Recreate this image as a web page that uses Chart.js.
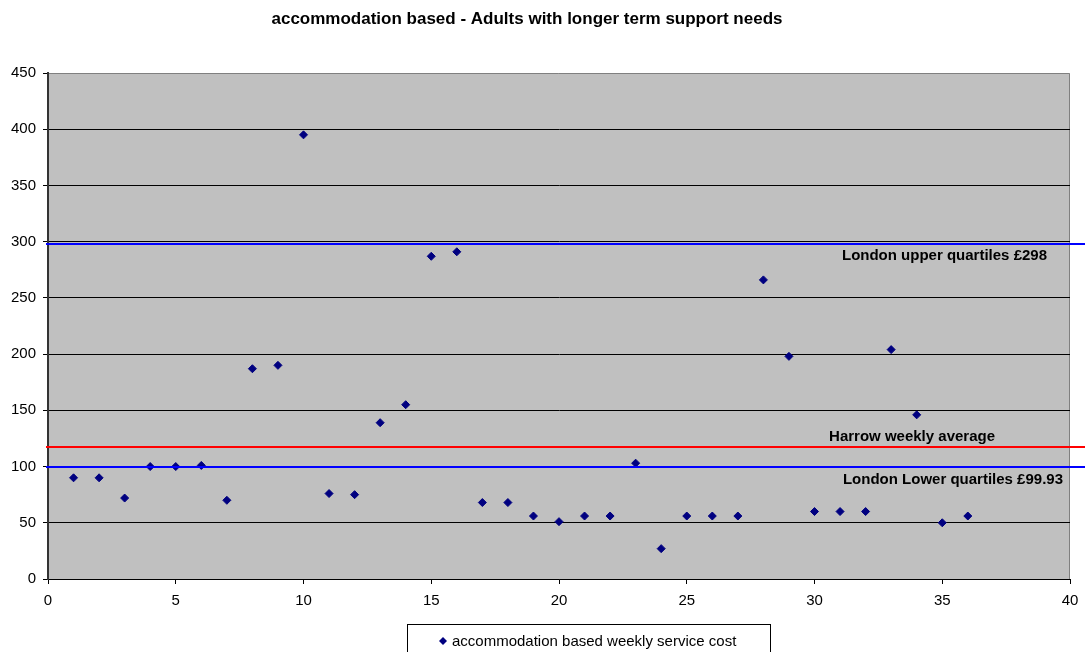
<!DOCTYPE html>
<html>
<head>
<meta charset="utf-8">
<script src="https://cdn.jsdelivr.net/npm/chart.js@4.4.1/dist/chart.umd.min.js"></script>
<style>
  html, body { margin: 0; padding: 0; background: #ffffff; }
  #wrap { width: 1085px; height: 652px; position: relative; }
</style>
</head>
<body>
<div id="wrap"><canvas id="c" width="1085" height="652"></canvas></div>
<script>
// Scheme number along the x axis, weekly service cost (£) on the y axis
const schemeNumbers = [1,2,3,4,5,6,7,8,9,10,11,12,13,14,15,16,17,18,19,20,21,22,23,24,25,26,27,28,29,30,31,32,33,34,35,36];
const weeklyCosts   = [90,90,72,100,100,101,70,187,190,395,76,75,139,155,287,291,68,68,56,51,56,56,103,27,56,56,56,266,198,60,60,60,204,146,50,56];

// Reference lines: value, colour and caption
const refValues  = [298, 117, 99.93];
const refColors  = ['#0000FF', '#FF0000', '#0000FF'];
const refLabels  = ['London upper quartiles £298', 'Harrow weekly average', 'London Lower quartiles £99.93'];
const refLabelX  = [1047, 995, 1063];   // right edge of each caption
const refLabelDy = [12, -10, 13];       // caption offset from its line

const chartTitle  = 'accommodation based - Adults with longer term support needs';
const seriesName  = 'accommodation based weekly service cost';
const FONT = '"Liberation Sans", Arial, sans-serif';

const plotBackground = {
  id: 'plotBackground',
  beforeDraw(chart) {
    const { ctx, chartArea: a } = chart;
    ctx.save();
    ctx.fillStyle = '#C0C0C0';
    ctx.fillRect(a.left, a.top, a.right - a.left, a.bottom - a.top);
    ctx.strokeStyle = '#808080';
    ctx.lineWidth = 1;
    ctx.beginPath();
    ctx.moveTo(a.left, a.top + 0.5);
    ctx.lineTo(a.right - 0.5, a.top + 0.5);
    ctx.lineTo(a.right - 0.5, a.bottom);
    ctx.stroke();
    ctx.restore();
  }
};

const refLines = {
  id: 'refLines',
  afterDatasetsDraw(chart) {
    const { ctx, chartArea: a, scales: { y } } = chart;
    ctx.save();
    refValues.forEach((v, i) => {
      const py = Math.round(y.getPixelForValue(v));
      ctx.strokeStyle = refColors[i];
      ctx.lineWidth = 2;
      ctx.beginPath();
      ctx.moveTo(a.left - 2, py);
      ctx.lineTo(chart.width, py);
      ctx.stroke();
      ctx.fillStyle = '#000000';
      ctx.font = 'bold 15px ' + FONT;
      ctx.textAlign = 'right';
      ctx.textBaseline = 'middle';
      ctx.fillText(refLabels[i], refLabelX[i], py + refLabelDy[i]);
    });
    ctx.restore();
  }
};

const titleAndLegend = {
  id: 'titleAndLegend',
  afterDraw(chart) {
    const ctx = chart.ctx;
    ctx.save();
    ctx.fillStyle = '#000000';
    ctx.font = 'bold 17px ' + FONT;
    ctx.textAlign = 'center';
    ctx.textBaseline = 'middle';
    ctx.fillText(chartTitle, 527, 19);

    // legend box
    ctx.strokeStyle = '#000000';
    ctx.lineWidth = 1;
    ctx.strokeRect(407.5, 624.5, 363, 40);
    ctx.fillStyle = '#000080';
    const dx = 443, dy = 641;
    ctx.beginPath();
    ctx.moveTo(dx, dy - 4); ctx.lineTo(dx + 4, dy); ctx.lineTo(dx, dy + 4); ctx.lineTo(dx - 4, dy);
    ctx.closePath();
    ctx.fill();
    ctx.fillStyle = '#000000';
    ctx.font = '15px ' + FONT;
    ctx.textAlign = 'left';
    ctx.fillText(seriesName, 452, dy + 1);
    ctx.restore();
  }
};

new Chart(document.getElementById('c'), {
  type: 'scatter',
  data: {
    datasets: [{
      label: seriesName,
      data: schemeNumbers.map((x, i) => ({ x: x, y: weeklyCosts[i] })),
      pointStyle: 'rectRot',
      pointRadius: 4,
      backgroundColor: '#000080',
      borderColor: '#000080',
      borderWidth: 1
    }]
  },
  options: {
    responsive: false,
    animation: false,
    layout: { padding: { top: 73, right: 15, left: 0, bottom: 0 } },
    plugins: { legend: { display: false }, title: { display: false }, tooltip: { enabled: false } },
    scales: {
      x: {
        type: 'linear',
        min: 0, max: 40,
        ticks: { stepSize: 5, color: '#000000', font: { family: FONT, size: 15 }, padding: 8, maxRotation: 0 },
        grid: { drawOnChartArea: false, color: '#000000', tickLength: 5, tickColor: '#000000' },
        border: { color: '#000000', width: 1 },
        afterFit(scale) { scale.height = 73; scale.paddingRight = 0; scale.paddingLeft = 0; }
      },
      y: {
        min: 0, max: 450,
        ticks: { stepSize: 50, color: '#000000', font: { family: FONT, size: 15 }, padding: 7 },
        grid: {
          color: (c) => (c.tick && c.tick.value === 450 ? 'rgba(0,0,0,0)' : '#000000'),
          tickColor: '#000000',
          tickLength: 5
        },
        border: { color: '#333333', width: 2 },
        afterFit(scale) { scale.width = 48; }
      }
    }
  },
  plugins: [plotBackground, refLines, titleAndLegend]
});
</script>
</body>
</html>
